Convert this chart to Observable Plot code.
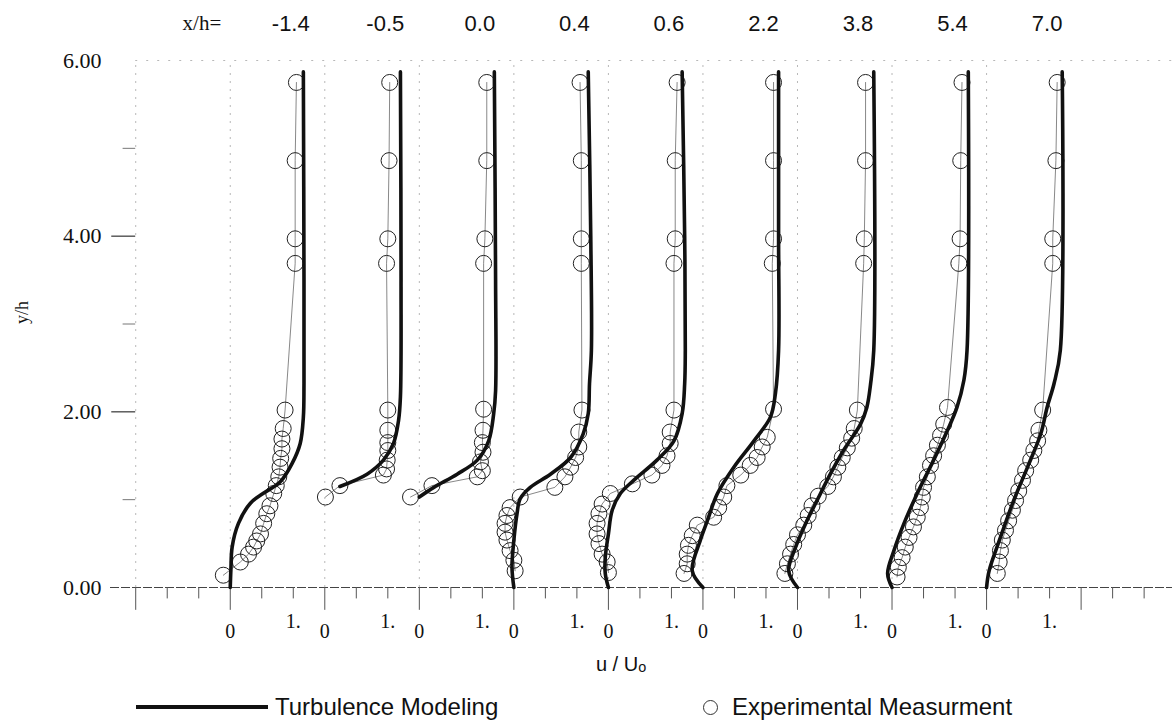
<!DOCTYPE html>
<html>
<head>
<meta charset="utf-8">
<script src="https://cdn.jsdelivr.net/npm/d3@7"></script>
<script src="https://cdn.jsdelivr.net/npm/@observablehq/plot@0.6"></script>
<style>
  html, body { margin: 0; padding: 0; background: #fff; }
  #wrap { position: relative; width: 1172px; height: 726px; overflow: hidden; }
  #legend { position: absolute; left: 0; top: 688px; width: 1172px; height: 38px;
            font-family: "Liberation Sans", Arial, sans-serif; font-size: 24px; color: #111; }
  #legend .item { position: absolute; top: 0; height: 38px; display: flex; align-items: center; }
  #legend .line { width: 132px; height: 4px; background: #111; margin-right: 7px; }
  #legend .circ { width: 13px; height: 13px; border: 1.2px solid #333; border-radius: 50%; margin-right: 14px; }
</style>
</head>
<body>
<div id="wrap">
  <div id="chart"></div>
  <div id="legend">
    <div class="item" style="left:136px"><span class="line"></span><span>Turbulence Modeling</span></div>
    <div class="item" style="left:703px"><span class="circ"></span><span>Experimental Measurment</span></div>
  </div>
</div>
<script>
// Streamwise stations x/h; each profile is drawn at an offset of 1.5 u/U0 units
const stations = [-1.4, -0.5, 0.0, 0.4, 0.6, 2.2, 3.8, 5.4, 7.0];
const stationSpacing = 1.5;

// Turbulence-model profiles: [u/U0, y/h]
const model0 = [[0,0],[0.01,0.2],[0.03,0.46],[0.13,0.73],[0.32,0.96],[0.52,1.07],[0.79,1.2],[0.98,1.41],[1.11,1.64],[1.16,1.94],[1.17,2.32],[1.17,3.5],[1.16,5.87]];
const model1 = [[0.24,1.15],[0.67,1.29],[0.93,1.45],[1.09,1.64],[1.17,1.9],[1.2,2.17],[1.21,3.5],[1.2,5.87]];
const model2 = [[0,1.03],[0.23,1.14],[0.6,1.29],[0.92,1.45],[1.1,1.67],[1.18,1.98],[1.21,2.24],[1.21,3.5],[1.19,5.87]];
const model3 = [[0,0],[-0.03,0.23],[0,0.54],[0.05,0.84],[0.1,1.01],[0.26,1.14],[0.58,1.29],[0.9,1.48],[1.1,1.75],[1.18,1.98],[1.2,2.32],[1.23,2.7],[1.22,4.0],[1.18,5.87]];
const model4 = [[0,0],[-0.05,0.16],[-0.05,0.34],[0,0.61],[0.06,0.88],[0.19,1.07],[0.4,1.22],[0.77,1.45],[1.04,1.67],[1.17,1.98],[1.21,2.32],[1.22,2.7],[1.21,4.0],[1.17,5.87]];
const model5 = [[0,0],[-0.17,0.19],[-0.04,0.54],[0.07,0.76],[0.23,1.07],[0.49,1.37],[0.81,1.67],[1.07,1.94],[1.15,2.21],[1.2,2.7],[1.2,4.0],[1.2,5.87]];
const model6 = [[0,0],[-0.14,0.19],[-0.03,0.46],[0.13,0.73],[0.31,0.99],[0.52,1.29],[0.73,1.56],[1.0,1.86],[1.1,2.05],[1.16,2.32],[1.21,2.7],[1.21,5.87]];
const model7 = [[0,0],[-0.07,0.16],[0.03,0.42],[0.19,0.73],[0.4,1.07],[0.66,1.45],[0.88,1.79],[1.03,2.05],[1.14,2.36],[1.19,2.7],[1.21,5.87]];
const model8 = [[0,0],[0.04,0.19],[0.22,0.57],[0.43,0.99],[0.65,1.37],[0.86,1.75],[0.96,2.05],[1.07,2.32],[1.17,2.7],[1.2,5.87]];

// Experimental measurements: [u/U0, y/h]
const meas0 = [[-0.11,0.14],[0.16,0.29],[0.29,0.38],[0.37,0.46],[0.42,0.53],[0.48,0.61],[0.53,0.73],[0.58,0.84],[0.63,0.93],[0.69,1.07],[0.73,1.16],[0.77,1.26],[0.79,1.37],[0.8,1.47],[0.82,1.58],[0.82,1.69],[0.84,1.81],[0.87,2.02],[1.03,3.69],[1.03,3.97],[1.03,4.86],[1.05,5.75]];
const meas1 = [[0.01,1.03],[0.24,1.16],[0.93,1.28],[0.98,1.35],[0.99,1.45],[1.0,1.56],[1.0,1.65],[1.0,1.79],[1.0,2.02],[0.98,3.69],[1.0,3.97],[1.02,4.86],[1.03,5.75]];
const meas2 = [[-0.14,1.03],[0.2,1.16],[0.92,1.26],[1.0,1.33],[0.97,1.43],[1.01,1.54],[1.0,1.65],[1.01,1.79],[1.02,2.03],[1.02,3.69],[1.04,3.97],[1.07,4.86],[1.07,5.75]];
const meas3 = [[0.02,0.19],[0,0.31],[-0.06,0.42],[-0.11,0.54],[-0.14,0.63],[-0.14,0.73],[-0.11,0.82],[-0.06,0.91],[0.1,1.03],[0.65,1.14],[0.81,1.26],[0.9,1.37],[0.98,1.48],[1.03,1.6],[1.03,1.77],[1.08,2.02],[1.07,3.69],[1.07,3.97],[1.07,4.86],[1.05,5.75]];
const meas4 = [[0,0.17],[-0.02,0.29],[-0.1,0.38],[-0.15,0.5],[-0.18,0.61],[-0.18,0.73],[-0.15,0.84],[-0.1,0.95],[0.03,1.07],[0.38,1.18],[0.69,1.28],[0.85,1.39],[0.93,1.5],[0.98,1.64],[0.98,1.77],[1.04,2.02],[1.04,3.69],[1.06,3.97],[1.06,4.86],[1.09,5.75]];
const meas5 = [[-0.3,0.16],[-0.25,0.27],[-0.25,0.38],[-0.23,0.48],[-0.17,0.59],[-0.09,0.71],[0.17,0.8],[0.25,0.91],[0.33,1.03],[0.38,1.16],[0.6,1.28],[0.75,1.39],[0.86,1.48],[0.94,1.6],[1.02,1.71],[1.12,2.03],[1.1,3.69],[1.12,3.97],[1.12,4.86],[1.12,5.75]];
const meas6 = [[-0.2,0.16],[-0.16,0.27],[-0.11,0.38],[-0.06,0.49],[0,0.6],[0.1,0.71],[0.17,0.82],[0.23,0.93],[0.33,1.04],[0.48,1.15],[0.57,1.26],[0.64,1.37],[0.71,1.48],[0.79,1.59],[0.86,1.7],[0.9,1.81],[0.95,2.02],[1.05,3.69],[1.06,3.97],[1.08,4.86],[1.08,5.75]];
const meas7 = [[0.08,0.12],[0.1,0.23],[0.16,0.34],[0.21,0.46],[0.27,0.57],[0.34,0.69],[0.4,0.8],[0.45,0.91],[0.48,1.03],[0.5,1.14],[0.56,1.26],[0.61,1.39],[0.66,1.5],[0.72,1.62],[0.77,1.73],[0.82,1.86],[0.88,2.05],[1.06,3.69],[1.08,3.97],[1.09,4.86],[1.11,5.75]];
const meas8 = [[0.17,0.16],[0.2,0.29],[0.22,0.42],[0.25,0.54],[0.3,0.65],[0.35,0.76],[0.41,0.88],[0.46,0.99],[0.51,1.1],[0.57,1.22],[0.62,1.33],[0.7,1.45],[0.75,1.56],[0.81,1.67],[0.83,1.79],[0.89,2.02],[1.05,3.69],[1.05,3.97],[1.1,4.86],[1.12,5.75]];

// Axis ticks
const yLabelTicks = [0, 2, 4, 6];
const yMajorTicks = [2, 4];
const yMinorTicks = [1, 3, 5];
const uZeroLabel = "0";
const uOneLabel = "1.";

const modelProfiles = [model0, model1, model2, model3, model4, model5, model6, model7, model8];
const measProfiles = [meas0, meas1, meas2, meas3, meas4, meas5, meas6, meas7, meas8];

const base = i => i * stationSpacing;
const toRows = profiles => profiles.flatMap((pts, i) =>
  pts.map(([u, y]) => ({station: i, u, y, x: base(i) + u})));
const modelRows = toRows(modelProfiles);
const measRows = toRows(measProfiles);

const stationIdx = stations.map((d, i) => i);
const gridX = [-1, ...stationIdx].map(i => base(i));
const halfTicks = d3.range(-3, 30).map(k => k * 0.5).filter(v => Math.abs(v / stationSpacing - Math.round(v / stationSpacing)) > 1e-6);
const stationTicks = d3.range(-1, 10).map(i => base(i));

const serif = "'Liberation Serif', 'Times New Roman', serif";
const sans = "'Liberation Sans', Arial, sans-serif";

const chart = Plot.plot({
  width: 1172,
  height: 688,
  marginLeft: 110,
  marginRight: 0,
  marginTop: 60,
  marginBottom: 101,
  x: {domain: [-1.9, 14.95], axis: null},
  y: {domain: [0, 6], axis: null},
  style: {background: "white", overflow: "visible", color: "#111"},
  marks: [
    // faint station guides and top border
    Plot.ruleX(gridX, {x: d => d, y1: () => 0, y2: () => 6, stroke: "#888", strokeOpacity: 0.6, strokeDasharray: "2,6"}),
    Plot.ruleY([6], {y: d => d, x1: () => -1.5, x2: () => 14.95, stroke: "#888", strokeOpacity: 0.6, strokeDasharray: "2,9"}),
    // horizontal axis at y/h = 0
    Plot.ruleY([0], {y: d => d, x1: () => -1.9, x2: () => 14.95, stroke: "#444", strokeWidth: 1.1, strokeDasharray: "9,2"}),
    Plot.ruleX(halfTicks, {x: d => d, y1: () => 0, y2: () => -0.13, stroke: "#555"}),
    Plot.ruleX(stationTicks, {x: d => d, y1: () => 0, y2: () => -0.26, stroke: "#555"}),
    // vertical axis ticks and labels
    Plot.ruleY(yMajorTicks, {y: d => d, x1: () => -1.88, x2: () => -1.5, stroke: "#333", strokeWidth: 1.2}),
    Plot.ruleY(yMinorTicks, {y: d => d, x1: () => -1.7, x2: () => -1.5, stroke: "#777"}),
    Plot.text(yLabelTicks, {x: () => -1.9, y: d => d, text: d => d.toFixed(2), textAnchor: "end", dx: -9, fontFamily: serif, fontSize: 22, fill: "#111"}),
    Plot.text(["y/h"], {frameAnchor: "left", y: () => 3, text: d => d, rotate: -90, dx: -88, fontFamily: serif, fontSize: 18, fill: "#111"}),
    // u/U0 tick labels under each station
    Plot.text(stationIdx, {x: i => base(i), y: () => 0, text: () => uZeroLabel, dy: 44, fontFamily: serif, fontSize: 20, fill: "#111"}),
    Plot.text(stationIdx, {x: i => base(i) + 1, y: () => 0, text: () => uOneLabel, dy: 34, fontFamily: serif, fontSize: 20, fill: "#111"}),
    Plot.text(["u / Uo"], {x: () => 6.2, y: () => 0, text: d => d, dy: 77, fontFamily: sans, fontSize: 20, fill: "#111"}),
    // station headers
    Plot.text(["x/h="], {x: () => base(-1) + 1.05, y: () => 6, text: d => d, dy: -37, fontFamily: serif, fontSize: 21, fill: "#111"}),
    Plot.text(stations, {x: (d, i) => base(i) + 0.96, y: () => 6, text: d => d.toFixed(1), dy: -37, fontFamily: sans, fontSize: 22, fill: "#111"}),
    // experimental measurements
    Plot.line(measRows, {x: "x", y: "y", z: "station", stroke: "#555", strokeWidth: 0.7}),
    Plot.dot(measRows, {x: "x", y: "y", r: 8, stroke: "#222", strokeWidth: 1, fill: "none"}),
    // turbulence-model profiles
    Plot.line(modelRows, {x: "x", y: "y", z: "station", stroke: "#111", strokeWidth: 3.6, curve: "catmull-rom"})
  ]
});

// small subscript "o" in the axis title
d3.select(chart).selectAll("text").filter(function () { return this.textContent === "u / Uo"; })
  .each(function () {
    const t = d3.select(this);
    t.text("u / U");
    t.append("tspan").attr("font-size", "0.72em").attr("dy", "0.1em").text("o");
  });

document.getElementById("chart").appendChild(chart);
</script>
</body>
</html>
